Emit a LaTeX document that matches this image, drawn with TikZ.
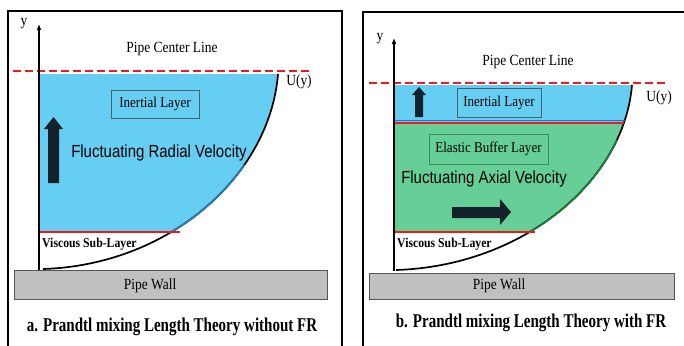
\documentclass[tikz,border=0pt]{standalone}
\usepackage{fontspec}
\usepackage{graphicx}
\setmainfont{Liberation Serif}
\newfontfamily\arialf{Liberation Sans}
\usetikzlibrary{arrows.meta}
\definecolor{skyfill}{HTML}{67CEF3}
\definecolor{greenfill}{HTML}{66CF98}
\definecolor{wallgray}{HTML}{C0C0C0}
\definecolor{wallline}{HTML}{555555}
\definecolor{redline}{HTML}{F01818}
\definecolor{arrowdark}{HTML}{13212A}
\definecolor{boxblue}{HTML}{3E6472}
\definecolor{boxgreen}{HTML}{3C8A5C}
\definecolor{edgeblue}{HTML}{2A7FB0}
\definecolor{edgegreen}{HTML}{1F7A3D}
\definecolor{splitblue}{HTML}{2070D0}
\newcommand\sqz[2]{\scalebox{#1}[1]{#2}}
\tikzset{
  frameline/.style={line width=1.4pt, draw=black},
  centerline/.style={draw=redline, line width=2.6pt, dash pattern=on 7.5pt off 4.5pt},
  redsplit/.style={draw=redline, line width=2.2pt},
  profile/.style={draw=black, line width=1.7pt},
  yaxis/.style={draw=black, line width=1.4pt, -{Latex[length=6pt,width=5pt]}},
  wall/.style={fill=wallgray, draw=wallline, line width=1pt},
  layerbox/.style={draw=boxblue, line width=0.8pt},
  greenbox/.style={draw=boxgreen, line width=0.8pt},
  serif/.style={font=\fontsize{15.5}{17}\selectfont, inner sep=0pt},
  smallserif/.style={font=\fontsize{15}{16}\selectfont, inner sep=0pt},
  boldlabel/.style={font=\bfseries\fontsize{13.5}{15}\selectfont, inner sep=0pt},
  caption/.style={font=\bfseries\fontsize{19.5}{21}\selectfont, inner sep=0pt},
  sanslabel/.style={font=\arialf\fontsize{17.5}{19}\selectfont, inner sep=0pt},
  bigarrow/.style={fill=arrowdark, draw=none}
}
\begin{document}
\begin{tikzpicture}[x=1pt,y=-1pt]
\useasboundingbox (0,0) rectangle (684,345);
\fill[white] (0,0) rectangle (684,345);

% ================= LEFT PANEL =================
\draw[frameline] (8,346) -- (8,11) -- (342,11) -- (342,346);

% blue region
\begin{scope}
  \clip (30,74) rectangle (400,232);
  \fill[skyfill] (40,74) -- (278,74) .. controls (270,175) and (170,265) .. (43,269) -- (40,269) -- cycle;
\end{scope}
% profile curve
\draw[profile] (278,74) .. controls (270,175) and (170,265) .. (43,269);
\begin{scope}
  \clip (30,165) rectangle (400,231);
  \draw[draw=edgeblue, line width=1.8pt] (278,74) .. controls (270,175) and (170,265) .. (43,269);
\end{scope}

\coordinate (lcl1) at (13,71);
\coordinate (lcl2) at (310,71);
\draw[centerline] (lcl1) -- (lcl2);
\coordinate (lrs1) at (40,232);
\coordinate (lrs2) at (180,232);
\draw[redsplit] (lrs1) -- (lrs2);

\coordinate (lya) at (39,271);
\coordinate (lyb) at (39,24);
\draw[yaxis] (lya) -- (lyb);
\node[serif] (ly) at (24,24) {\sqz{0.87}{y}};

\node[serif] (lpcl) at (172,49) {\sqz{0.87}{Pipe Center Line}};
\node[serif] (lu) at (299,82) {\sqz{0.87}{U(y)}};

\draw[layerbox] (111,90) rectangle (199,118);
\node[smallserif] (linert) at (155,104) {\sqz{0.87}{Inertial Layer}};

\fill[bigarrow] (48,183) -- (48,129) -- (44,129) -- (53.5,117) -- (63,129) -- (59,129) -- (59,183) -- cycle;
\node[sanslabel] (lfrv) at (159,153) {\sqz{0.855}{Fluctuating Radial Velocity}};

\node[boldlabel, anchor=west] (lvisc) at (42,244) {\sqz{0.87}{Viscous Sub-Layer}};

\draw[wall] (14,270) rectangle (327,299);
\node[serif] (lwall) at (150,286) {\sqz{0.87}{Pipe Wall}};

\node[caption] (lcap) at (172,327) {\sqz{0.77}{a. Prandtl mixing Length Theory without FR}};

% ================= RIGHT PANEL =================
\draw[frameline] (363,346) -- (363,12) -- (690,12);

\begin{scope}
  \clip (380,85) rectangle (700,122);
  \fill[skyfill] (395,85) -- (632,85) .. controls (624,181) and (523,266) .. (396,270) -- (395,270) -- cycle;
\end{scope}
\begin{scope}
  \clip (380,122) rectangle (700,232);
  \fill[greenfill] (395,85) -- (632,85) .. controls (624,181) and (523,266) .. (396,270) -- (395,270) -- cycle;
\end{scope}
\draw[profile] (632,85) .. controls (624,181) and (523,266) .. (396,270);
\begin{scope}
  \clip (380,140) rectangle (700,231);
  \draw[draw=edgegreen, line width=1.8pt] (632,85) .. controls (624,181) and (523,266) .. (396,270);
\end{scope}

\coordinate (rcl1) at (369,83);
\coordinate (rcl2) at (667,83);
\draw[centerline] (rcl1) -- (rcl2);

\coordinate (rbs1) at (395,120.5);
\coordinate (rbs2) at (625,120.5);
\draw[draw=splitblue, line width=1.6pt] (rbs1) -- (rbs2);
\coordinate (rrs1) at (395,123);
\coordinate (rrs2) at (624,123);
\draw[redsplit] (rrs1) -- (rrs2);
\coordinate (rrv1) at (395,232);
\coordinate (rrv2) at (535,232);
\draw[redsplit] (rrv1) -- (rrv2);

\coordinate (rya) at (394,271);
\coordinate (ryb) at (394,38);
\draw[yaxis] (rya) -- (ryb);
\node[serif] (ry) at (380,39) {\sqz{0.87}{y}};

\node[serif] (rpcl) at (528,62) {\sqz{0.87}{Pipe Center Line}};
\node[serif] (ru) at (659,98) {\sqz{0.87}{U(y)}};

\draw[layerbox] (457,88) rectangle (541,117);
\node[smallserif] (rinert) at (499,102.5) {\sqz{0.87}{Inertial Layer}};
\fill[bigarrow] (415,117) -- (415,95) -- (412,95) -- (419,87) -- (426,95) -- (423,95) -- (423,117) -- cycle;

\draw[greenbox] (429,134) rectangle (548,164);
\node[smallserif] (relastic) at (488.5,148.5) {\sqz{0.87}{Elastic Buffer Layer}};

\node[sanslabel] (rfav) at (484,179) {\sqz{0.855}{Fluctuating Axial Velocity}};
\fill[bigarrow] (452,207) -- (500,207) -- (500,199) -- (511,212) -- (500,225) -- (500,218) -- (452,218) -- cycle;

\node[boldlabel, anchor=west] (rvisc) at (397,244) {\sqz{0.87}{Viscous Sub-Layer}};

\draw[wall] (369,273) rectangle (674,299);
\node[serif] (rwall) at (499,286) {\sqz{0.87}{Pipe Wall}};

\node[caption] (rcap) at (531,323) {\sqz{0.77}{b. Prandtl mixing Length Theory with FR}};
\end{tikzpicture}
\end{document}
